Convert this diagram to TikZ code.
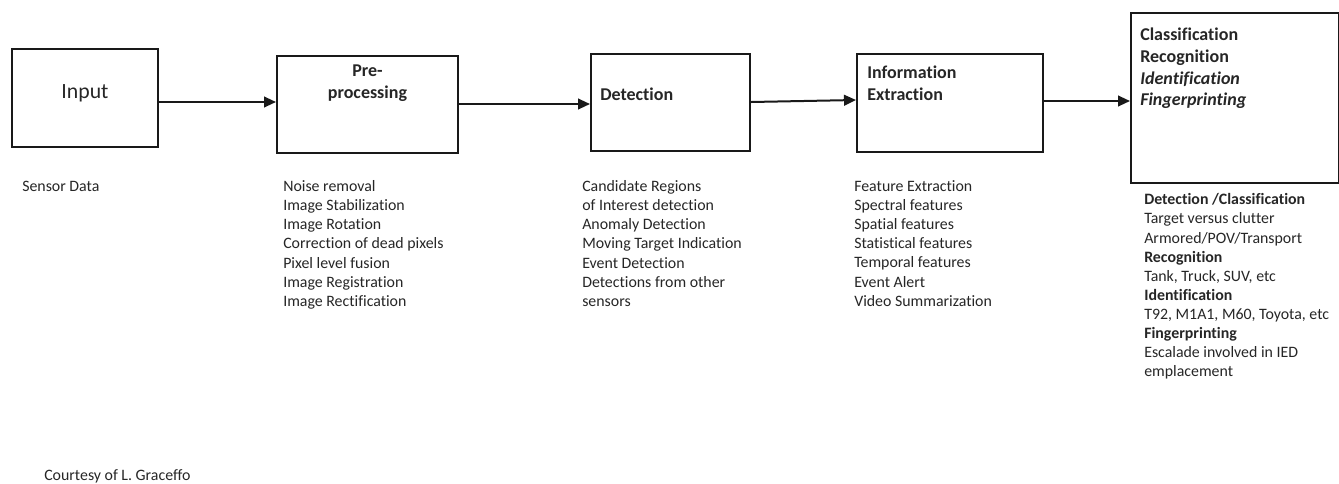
\documentclass[tikz,border=0pt]{standalone}
\usepackage{fontspec}
\setmainfont{Carlito}[Ligatures=NoCommon]
\usetikzlibrary{calc,arrows.meta}

\begin{document}
\begin{tikzpicture}
[x=0.75pt, y=-0.75pt,
 stage/.style 2 args={draw=black!90, line width=1.5pt, anchor=north west, inner sep=0pt, minimum width=#1*0.75pt, minimum height=#2*0.75pt},
 title/.style={font=\fontsize{13.5}{16.2}\selectfont\bfseries, text=black!85, inner sep=0pt},
 items/.style={font=\fontsize{11.9}{14.3}\selectfont, text=black!85, inner sep=0pt, align=left, anchor=north west},
 link/.style={draw=black!90, line width=1.5pt, -{Triangle[length=9pt,width=8pt]}}]
    \useasboundingbox (0,0) rectangle (1339,483);
    % boxes of the chain
    \node[stage={146}{98}] (in) at (11,48) {};
    \node[stage={181}{97}] (pre) at (276,55) {};
    \node[stage={159}{97}] (det) at (590,53) {};
    \node[stage={186}{98}] (inf) at (856,53) {};
    \node[stage={208}{170}] (cls) at (1130,12) {};
    % titles
    \node[font=\fontsize{16.3}{19}\selectfont, text=black!85, inner sep=0pt] (inT) at ($(in.center)+(0,-5)$) {Input};
    \node[title, align=center, anchor=north] (preT) at ($(pre.north)+(0,10)$) {Pre-\\processing};
    \node[title, anchor=west] (detT) at ($(det.west)+(10,-8.5)$) {Detection};
    \node[title, align=left, anchor=north west] (infT) at ($(inf.north west)+(11,13)$) {Information\\Extraction};
    \node[title, align=left, anchor=north west] (clsT) at ($(cls.north west)+(10,16)$)
        {Classification\\Recognition\\\textit{Identification}\\\textit{Fingerprinting}};
    % lists under the boxes
    \node[items] (inL) at ($(in.south west)+(11,32.5)$) {Sensor Data};
    \node[items] (preL) at ($(pre.south west)+(7,26.5)$)
        {Noise removal\\Image Stabilization\\Image Rotation\\Correction of dead pixels\\Pixel level fusion\\Image Registration\\Image Rectification};
    \node[items] (detL) at ($(det.south west)+(-8,28.5)$)
        {Candidate Regions\\of Interest detection\\Anomaly Detection\\Moving Target Indication\\Event Detection\\Detections from other\\sensors};
    \node[items] (infL) at ($(inf.south west)+(-2,27.5)$)
        {Feature Extraction\\Spectral features\\Spatial features\\Statistical features\\Temporal features\\Event Alert\\Video Summarization};
    \node[items] (clsL) at ($(cls.south west)+(14,9.5)$)
        {\textbf{Detection /Classification}\\Target versus clutter\\Armored/POV/Transport\\\textbf{Recognition}\\Tank, Truck, SUV, etc\\\textbf{Identification}\\T92, M1A1, M60, Toyota, etc\\\textbf{Fingerprinting}\\Escalade involved in IED\\emplacement};
    \node[items] (credit) at (44,469.5) {Courtesy of L. Graceffo};
    % arrows
    \path ($(in.east)+(0,4)$) edge[link] ($(pre.west)+(0,-2.5)$);
    \path ($(pre.east)+(0,-0.5)$) edge[link] ($(det.west)+(0,1.5)$);
    \path ($(det.east)+(0,-0.5)$) edge[link] ($(inf.west)+(0,-3)$);
    \path ($(inf.east)+(0,-2)$) edge[link] ($(cls.west)+(0,3)$);
\end{tikzpicture}
\end{document}
